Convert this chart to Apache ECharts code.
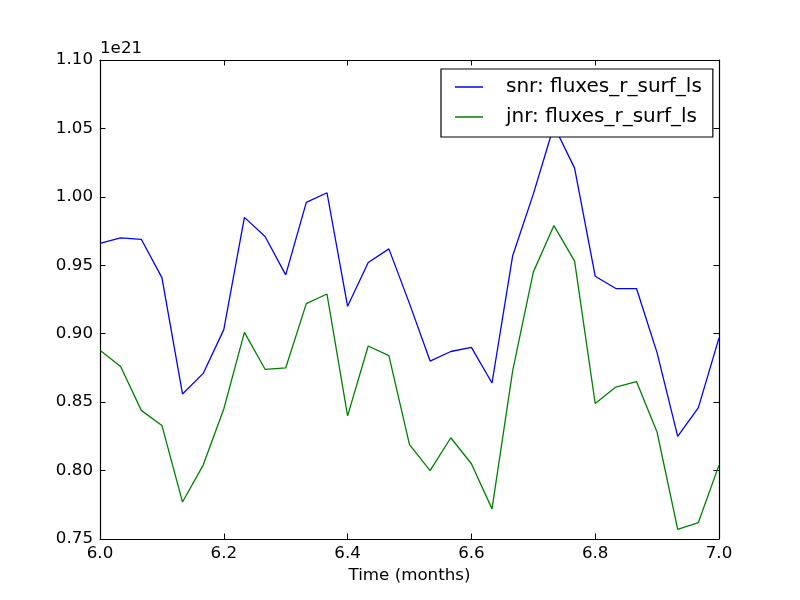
<!DOCTYPE html>
<html>
<head>
<meta charset="utf-8">
<script src="https://cdn.jsdelivr.net/npm/echarts@6/dist/echarts.min.js"></script>
<style>
  html, body { margin: 0; padding: 0; background: #fff; }
  #main { width: 800px; height: 600px; }
</style>
</head>
<body>
<div id="main"></div>
<script>
// time in months (x)
var months = [6.0000, 6.0333, 6.0667, 6.1000, 6.1333, 6.1667, 6.2000, 6.2333, 6.2667, 6.3000,
              6.3333, 6.3667, 6.4000, 6.4333, 6.4667, 6.5000, 6.5333, 6.5667, 6.6000, 6.6333,
              6.6667, 6.7000, 6.7333, 6.7667, 6.8000, 6.8333, 6.8667, 6.9000, 6.9333, 6.9667, 7.0000];
// values in units of 1e21
var snrValues = [0.966, 0.970, 0.969, 0.941, 0.856, 0.871, 0.903, 0.985, 0.971, 0.943,
                 0.996, 1.003, 0.920, 0.952, 0.962, 0.922, 0.880, 0.887, 0.890, 0.864,
                 0.957, 1.002, 1.052, 1.021, 0.942, 0.933, 0.933, 0.886, 0.825, 0.846, 0.897];
var jnrValues = [0.888, 0.876, 0.844, 0.833, 0.777, 0.804, 0.845, 0.901, 0.874, 0.875,
                 0.922, 0.929, 0.840, 0.891, 0.884, 0.819, 0.800, 0.824, 0.805, 0.772,
                 0.873, 0.945, 0.979, 0.953, 0.849, 0.861, 0.865, 0.828, 0.757, 0.762, 0.804];
var seriesNames = ['snr: fluxes_r_surf_ls', 'jnr: fluxes_r_surf_ls'];

function pairs(xs, ys) {
    var out = [];
    for (var i = 0; i < xs.length; i++) {
        out.push([xs[i], ys[i]]);
    }
    return out;
}

var myChart = echarts.init(document.getElementById('main'));
var font = 'DejaVu Sans';
var tickSize = 16.7;
var axisLine = { show: true, lineStyle: { color: '#000', width: 1.2 } };
var axisTick = { show: true, inside: true, length: 5.5, lineStyle: { color: '#000', width: 1 } };

var option = {
    animation: false,
    backgroundColor: '#fff',
    grid: { left: 100, right: 81, top: 60, bottom: 61 },
    graphic: [{
        type: 'text',
        left: 100,
        top: 40,
        style: { text: '1e21', font: tickSize + 'px "DejaVu Sans"', fill: '#000' }
    }],
    legend: {
        orient: 'vertical',
        left: 441,
        top: 69,
        padding: [8, 11, 10, 14],
        itemGap: 10,
        itemWidth: 28,
        itemHeight: 1.5,
        icon: 'rect',
        backgroundColor: '#fff',
        borderColor: '#000',
        borderWidth: 1.2,
        borderRadius: 0,
        z: 10,
        textStyle: { fontFamily: font, fontSize: 20, color: '#000', padding: [0, 0, 0, 18] },
        data: seriesNames
    },
    xAxis: [{
        type: 'value',
        min: 6, max: 7, interval: 0.2,
        name: 'Time (months)',
        nameLocation: 'middle',
        nameGap: 25,
        nameTextStyle: { fontFamily: font, fontSize: tickSize, color: '#000' },
        axisLine: axisLine,
        axisTick: axisTick,
        splitLine: { show: false },
        axisLabel: {
            fontFamily: font, fontSize: tickSize, color: '#000', margin: 6,
            formatter: function (v) { return v.toFixed(1); }
        }
    }, {
        type: 'value',
        position: 'top',
        min: 6, max: 7, interval: 0.2,
        axisLine: axisLine,
        axisTick: axisTick,
        splitLine: { show: false },
        axisLabel: { show: false }
    }],
    yAxis: [{
        type: 'value',
        min: 0.75, max: 1.10, interval: 0.05,
        axisLine: axisLine,
        axisTick: axisTick,
        splitLine: { show: false },
        axisLabel: {
            fontFamily: font, fontSize: tickSize, color: '#000', margin: 7,
            formatter: function (v) { return v.toFixed(2); }
        }
    }, {
        type: 'value',
        position: 'right',
        min: 0.75, max: 1.10, interval: 0.05,
        axisLine: axisLine,
        axisTick: axisTick,
        splitLine: { show: false },
        axisLabel: { show: false }
    }],
    series: [{
        name: seriesNames[0],
        type: 'line',
        data: pairs(months, snrValues),
        showSymbol: false,
        symbol: 'none',
        color: '#0000ff',
        lineStyle: { color: '#0000ff', width: 1.3 }
    }, {
        name: seriesNames[1],
        type: 'line',
        data: pairs(months, jnrValues),
        showSymbol: false,
        symbol: 'none',
        color: '#008000',
        lineStyle: { color: '#008000', width: 1.3 }
    }]
};

myChart.setOption(option);
</script>
</body>
</html>
